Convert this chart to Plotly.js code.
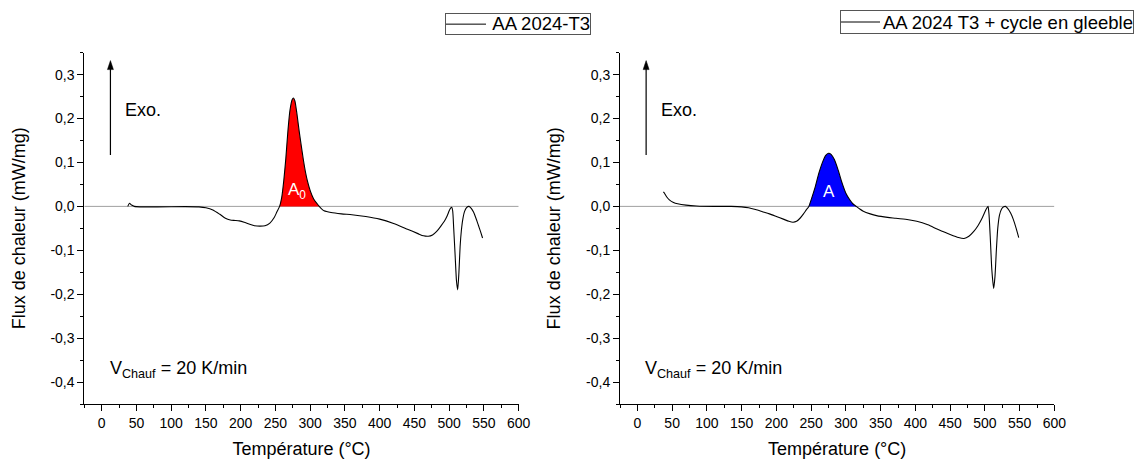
<!DOCTYPE html>
<html>
<head>
<meta charset="utf-8">
<script src="https://cdn.plot.ly/plotly-3.0.1.min.js"></script>
<style>html,body{margin:0;padding:0;background:#fff;}#chart{width:1141px;height:461px;}</style>
</head>
<body>
<div id="chart"></div>
<script>
// ---- Data ----
const seriesNameLeft = 'AA 2024-T3';
const seriesNameRight = 'AA 2024 T3 + cycle en gleeble';

const tempT3 = [37.5, 40, 43, 47, 55, 80, 120, 140, 150, 160, 170, 178, 185, 192, 198, 205, 212, 220, 228, 235, 242, 248, 252,
  256, 259, 262, 265, 268, 271, 274, 276, 278, 281, 284, 287, 290, 293, 296, 300, 305, 310, 313,
  316, 320, 330, 345, 360, 380, 400, 420, 440, 455, 463, 470, 476, 482, 488, 493, 497, 500, 502, 503.6,
  505, 506.5, 508.5, 510.5, 512.2, 514, 515.7, 517.5, 519.5, 522, 525, 528.5, 532, 535, 538.5, 542, 545, 548];
const fluxT3 = [0.0, 0.007, 0.003, 0.0, -0.001, -0.001, -0.0005, -0.001, -0.003, -0.008, -0.018, -0.027, -0.031, -0.032, -0.033, -0.036, -0.040, -0.044, -0.045, -0.044, -0.038, -0.026, -0.013,
  0.0, 0.02, 0.059, 0.11, 0.173, 0.22, 0.243, 0.247, 0.24, 0.21, 0.173, 0.14, 0.108, 0.08, 0.058, 0.036, 0.017, 0.006, 0.0,
  -0.005, -0.01, -0.014, -0.017, -0.019, -0.023, -0.029, -0.039, -0.052, -0.062, -0.067, -0.068, -0.065, -0.057, -0.045, -0.034, -0.022, -0.01, -0.004, -0.002,
  -0.01, -0.05, -0.11, -0.17, -0.19, -0.15, -0.092, -0.055, -0.03, -0.012, -0.003, 0.0, -0.005, -0.013, -0.027, -0.043, -0.057, -0.072];

const tempGleeble = [37.4, 39, 42, 46, 52, 58, 70, 85, 110, 135, 150, 160, 170, 180, 190, 200, 210, 218, 224, 229, 234, 239, 243,
  246.7, 250, 256, 261, 267, 271, 275, 279, 283.6, 289, 294.6, 300, 305.6, 310, 315,
  320, 325, 335, 344, 360, 372, 388, 402, 418, 432, 450, 462, 470, 477, 484, 490, 495, 499, 502, 504.5,
  506, 508, 510, 512.6, 514.5, 516.5, 518.5, 521, 524, 527, 529.5, 533, 537, 541, 545, 548.7];
const fluxGleeble = [0.033, 0.03, 0.022, 0.015, 0.009, 0.006, 0.003, 0.001, 0.0, 0.0, -0.001, -0.003, -0.007, -0.012, -0.017, -0.023, -0.029, -0.034, -0.036, -0.034, -0.027, -0.017, -0.008,
  0.0, 0.015, 0.045, 0.075, 0.103, 0.116, 0.121, 0.118, 0.106, 0.082, 0.053, 0.03, 0.015, 0.006, 0.0,
  -0.006, -0.011, -0.017, -0.021, -0.025, -0.027, -0.03, -0.034, -0.042, -0.052, -0.064, -0.071, -0.073, -0.068, -0.057, -0.044, -0.03, -0.016, -0.006, 0.0,
  -0.02, -0.08, -0.145, -0.187, -0.16, -0.1, -0.05, -0.02, -0.006, -0.001, 0.0, -0.005, -0.015, -0.03, -0.05, -0.071];

// integration limits of the shaded precipitation peaks
const peakT3 = [256, 313];
const peakGleeble = [246.7, 315];

const xTickVals = [0, 50, 100, 150, 200, 250, 300, 350, 400, 450, 500, 550, 600];
const yTickVals = [-0.4, -0.3, -0.2, -0.1, 0.0, 0.1, 0.2, 0.3];
const yTickText = ['-0,4', '-0,3', '-0,2', '-0,1', '0,0', '0,1', '0,2', '0,3'];
const yMinorVals = [-0.45, -0.35, -0.25, -0.15, -0.05, 0.05, 0.15, 0.25, 0.35];

// ---- Helpers ----
function slice(xs, ys, lim) {
  const ox = [], oy = [];
  xs.forEach((v, i) => { if (v >= lim[0] && v <= lim[1]) { ox.push(v); oy.push(ys[i]); } });
  return {x: ox, y: oy};
}
const FONT = 'Arial, "Liberation Sans", sans-serif';
const W = 1141, H = 461;
const plotTop = 52.7, plotBottom = 404;
const yDomain = [1 - plotBottom / H, 1 - plotTop / H];
const xDomainL = [84.3 / W, 518.7 / W];
const xDomainR = [620 / W, 1054.4 / W];

const pkL = slice(tempT3, fluxT3, peakT3);
const pkR = slice(tempGleeble, fluxGleeble, peakGleeble);

const traces = [
  {x: pkL.x, y: pkL.y, xaxis: 'x', yaxis: 'y', type: 'scatter', mode: 'lines', fill: 'tozeroy',
   fillcolor: '#ff0000', line: {width: 0, shape: 'spline', smoothing: 0.6}, showlegend: false, hoverinfo: 'skip'},
  {x: tempT3, y: fluxT3, xaxis: 'x', yaxis: 'y', type: 'scatter', mode: 'lines', name: seriesNameLeft,
   line: {color: '#000', width: 1.1, shape: 'spline', smoothing: 0.6}, showlegend: false},
  {x: pkR.x, y: pkR.y, xaxis: 'x2', yaxis: 'y2', type: 'scatter', mode: 'lines', fill: 'tozeroy',
   fillcolor: '#0000ff', line: {width: 0, shape: 'spline', smoothing: 0.6}, showlegend: false, hoverinfo: 'skip'},
  {x: tempGleeble, y: fluxGleeble, xaxis: 'x2', yaxis: 'y2', type: 'scatter', mode: 'lines', name: seriesNameRight,
   line: {color: '#000', width: 1.1, shape: 'spline', smoothing: 0.6}, showlegend: false}
];

function xAxis(domain, anchor) {
  return {
    domain: domain, anchor: anchor, range: [-25, 600], tickmode: 'array', tickvals: xTickVals,
    showline: true, linecolor: '#000', linewidth: 1, ticks: 'outside', ticklen: 6, tickwidth: 1, tickcolor: '#000',
    minor: {dtick: 25, tick0: -25, ticks: 'outside', ticklen: 3, tickwidth: 1, tickcolor: '#000', showgrid: false},
    showgrid: false, zeroline: false, tickfont: {size: 14, family: FONT, color: '#000'},
    title: {text: 'Température (°C)', font: {size: 18, family: FONT, color: '#000'}, standoff: 12}
  };
}
function yAxis(anchor) {
  return {
    domain: yDomain, anchor: anchor, range: [-0.45, 0.35], tickmode: 'array', tickvals: yTickVals, ticktext: yTickText,
    showline: true, linecolor: '#000', linewidth: 1, ticks: 'outside', ticklen: 6, tickwidth: 1, tickcolor: '#000',
    minor: {tickmode: 'array', tickvals: yMinorVals, ticks: 'outside', ticklen: 3, tickwidth: 1, tickcolor: '#000', showgrid: false},
    showgrid: false, zeroline: false, tickfont: {size: 14, family: FONT, color: '#000'},
    title: {text: 'Flux de chaleur (mW/mg)', font: {size: 18, family: FONT, color: '#000'}, standoff: 20}
  };
}

// "Exo." arrow: shaft + pixel-sized filled head anchored at the tip
const arrowX = 12.6, arrowBottom = 0.117, arrowTip = 0.332;
function arrowShapes(xr, yr) {
  return [
    {type: 'line', xref: xr, yref: yr, x0: arrowX, x1: arrowX, y0: arrowBottom, y1: arrowTip - 0.012,
     line: {color: '#000', width: 1.2}},
    {type: 'path', xref: xr, yref: yr, xsizemode: 'pixel', ysizemode: 'pixel', xanchor: arrowX, yanchor: arrowTip,
     path: 'M -3,-9 L 3,-9 L 0,0 Z', fillcolor: '#000', line: {color: '#000', width: 0.5}}
  ];
}

function panelAnnotations(xr, yr, label) {
  return [
    {xref: xr, yref: yr, x: 31, y: 0.219, text: 'Exo.', showarrow: false, xanchor: 'left', yanchor: 'middle',
     font: {size: 18, family: FONT, color: '#000'}},
    {xref: xr, yref: yr, x: 8.6, y: -0.372, text: 'V<sub>Chauf</sub> = 20 K/min', showarrow: false, xanchor: 'left', yanchor: 'middle',
     font: {size: 18, family: FONT, color: '#000'}},
    {xref: xr, yref: yr, x: label.x, y: 0.034, text: label.text, showarrow: false, xanchor: 'center', yanchor: 'middle',
     font: {size: 17, family: FONT, color: '#fff'}}
  ];
}

// legend boxes (framed annotations + a line sample)
function legendBox(name, left, right, top, bottom, lineEnd) {
  const ann = {xref: 'paper', yref: 'paper', x: right / W, y: 1 - top / H, xanchor: 'right', yanchor: 'top',
    width: right - left - 4, height: bottom - top - 2, align: 'right', valign: 'middle', text: name, showarrow: false,
    bordercolor: '#555', borderwidth: 1, borderpad: 0, bgcolor: 'rgba(0,0,0,0)', font: {size: 18.5, family: FONT, color: '#000'}};
  const sample = {type: 'line', xref: 'paper', yref: 'paper', x0: (left + 3) / W, x1: lineEnd / W,
    y0: 1 - (top + bottom) / 2 / H, y1: 1 - (top + bottom) / 2 / H, line: {color: '#000', width: 1}, layer: 'above'};
  return {ann: ann, shape: sample};
}
const legL = legendBox(seriesNameLeft, 442.7, 590.7, 13.3, 35, 486);
const legR = legendBox(seriesNameRight, 838, 1134, 10, 34, 880);

const layout = {
  width: W, height: H, margin: {l: 0, r: 0, t: 0, b: 0},
  paper_bgcolor: '#fff', plot_bgcolor: 'rgba(0,0,0,0)',
  separators: ', ', font: {family: FONT, color: '#000'},
  xaxis: xAxis(xDomainL, 'y'), yaxis: yAxis('x'),
  xaxis2: xAxis(xDomainR, 'y2'), yaxis2: yAxis('x2'),
  shapes: [
    {type: 'line', xref: 'x', yref: 'y', x0: -25, x1: 600, y0: 0, y1: 0, line: {color: '#a0a0a0', width: 1}, layer: 'below'},
    {type: 'line', xref: 'x2', yref: 'y2', x0: -25, x1: 600, y0: 0, y1: 0, line: {color: '#a0a0a0', width: 1}, layer: 'below'},
    legL.shape, legR.shape
  ].concat(arrowShapes('x', 'y')).concat(arrowShapes('x2', 'y2')),
  annotations: panelAnnotations('x', 'y', {x: 281, text: 'A<sub>0</sub>'})
    .concat(panelAnnotations('x2', 'y2', {x: 276, text: 'A'}))
    .concat([legL.ann, legR.ann]),
  showlegend: false
};

Plotly.newPlot('chart', traces, layout, {staticPlot: true, displayModeBar: false});
</script>
</body>
</html>
